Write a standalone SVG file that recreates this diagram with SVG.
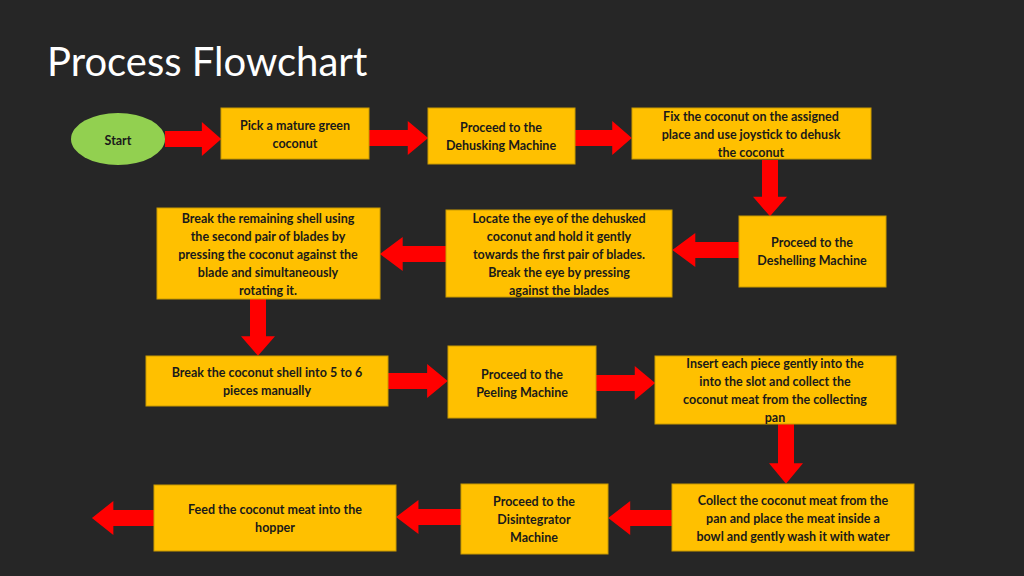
<svg xmlns="http://www.w3.org/2000/svg" width="1024" height="576" viewBox="0 0 1024 576">
<style>
.b{fill:#ffc000;stroke:#c99a00;stroke-width:1}
.t{font-family:Lato,"Liberation Sans",sans-serif;font-weight:bold;font-size:12.5px;fill:#1a1a1a;text-anchor:middle}
.a{fill:#ff0000}
</style>
<defs>
<path id="ar" d="M0,-8 L38,-8 L38,-17 L58,0 L38,17 L38,8 L0,8 Z"/>
</defs>
<rect width="1024" height="576" fill="#262626"/>
<text x="47" y="76" font-family="Lato,'Liberation Sans',sans-serif" font-size="40" fill="#fff">Process Flowchart</text>
<g id="connectors" class="a">
<use href="#ar" transform="translate(165,139) scale(0.97,1)"/>
<use href="#ar" transform="translate(369,138) scale(1.02,1)"/>
<use href="#ar" transform="translate(575,138) scale(0.98,1)"/>
<use href="#ar" transform="translate(770,160) rotate(90) scale(0.97,1)"/>
<use href="#ar" transform="translate(739,250) rotate(180) scale(1.15,1)"/>
<use href="#ar" transform="translate(446,254) rotate(180) scale(1.14,1)"/>
<use href="#ar" transform="translate(258,299) rotate(90) scale(0.98,1)"/>
<use href="#ar" transform="translate(388,381) scale(1.03,1)"/>
<use href="#ar" transform="translate(596,383) scale(1.02,1)"/>
<use href="#ar" transform="translate(786,424) rotate(90) scale(1.03,1)"/>
<use href="#ar" transform="translate(672,518) rotate(180) scale(1.1,1)"/>
<use href="#ar" transform="translate(461,517) rotate(180) scale(1.12,1)"/>
<use href="#ar" transform="translate(154,518) rotate(180) scale(1.07,1)"/>
</g>
<g id="start"><ellipse cx="118" cy="139" rx="47" ry="26" fill="#92d050"/><text class="t" x="118" y="145" font-size="16">Start</text></g>
<g id="n1"><rect class="b" x="221" y="108" width="148" height="51"/><text class="t" x="295" y="130">Pick a mature green</text><text class="t" x="295" y="148">coconut</text></g>
<g id="n2"><rect class="b" x="428" y="108" width="147" height="56"/><text class="t" x="501" y="132">Proceed to the</text><text class="t" x="501" y="150">Dehusking Machine</text></g>
<g id="n3"><rect class="b" x="632" y="108" width="239" height="51"/><text class="t" x="751" y="121">Fix the coconut on the assigned</text><text class="t" x="751" y="139">place and use joystick to  dehusk</text><text class="t" x="751" y="157">the coconut</text></g>
<g id="n4"><rect class="b" x="739" y="216" width="147" height="71"/><text class="t" x="812" y="247">Proceed to the</text><text class="t" x="812" y="265">Deshelling  Machine</text></g>
<g id="n5"><rect class="b" x="446" y="210" width="226" height="87"/><text class="t" x="559" y="223">Locate the eye of the dehusked</text><text class="t" x="559" y="241">coconut and hold it gently</text><text class="t" x="559" y="259">towards the first  pair of blades.</text><text class="t" x="559" y="277">Break the eye by pressing</text><text class="t" x="559" y="295">against the blades</text></g>
<g id="n6"><rect class="b" x="157" y="208" width="223" height="91"/><text class="t" x="268" y="223">Break the remaining shell using</text><text class="t" x="268" y="241">the second pair of blades by</text><text class="t" x="268" y="259">pressing the coconut against the</text><text class="t" x="268" y="277">blade and simultaneously</text><text class="t" x="268" y="295">rotating it.</text></g>
<g id="n7"><rect class="b" x="146" y="356" width="242" height="50"/><text class="t" x="267" y="377">Break the coconut shell into 5 to 6</text><text class="t" x="267" y="395">pieces manually</text></g>
<g id="n8"><rect class="b" x="448" y="346" width="148" height="72"/><text class="t" x="522" y="379">Proceed to the</text><text class="t" x="522" y="397">Peeling Machine</text></g>
<g id="n9"><rect class="b" x="655" y="356" width="241" height="68"/><text class="t" x="775" y="368">Insert each piece gently into the</text><text class="t" x="775" y="386">into the slot and collect the</text><text class="t" x="775" y="404">coconut meat from the collecting</text><text class="t" x="775" y="422">pan</text></g>
<g id="n10"><rect class="b" x="672" y="484" width="242" height="67"/><text class="t" x="793" y="505">Collect  the coconut meat from the</text><text class="t" x="793" y="523">pan and place the meat inside a</text><text class="t" x="793" y="541">bowl and gently wash it with water</text></g>
<g id="n11"><rect class="b" x="461" y="484" width="147" height="70"/><text class="t" x="534" y="506">Proceed to the</text><text class="t" x="534" y="524">Disintegrator</text><text class="t" x="534" y="542">Machine</text></g>
<g id="n12"><rect class="b" x="154" y="485" width="242" height="66"/><text class="t" x="275" y="514">Feed the coconut meat into the</text><text class="t" x="275" y="532">hopper</text></g>
</svg>
